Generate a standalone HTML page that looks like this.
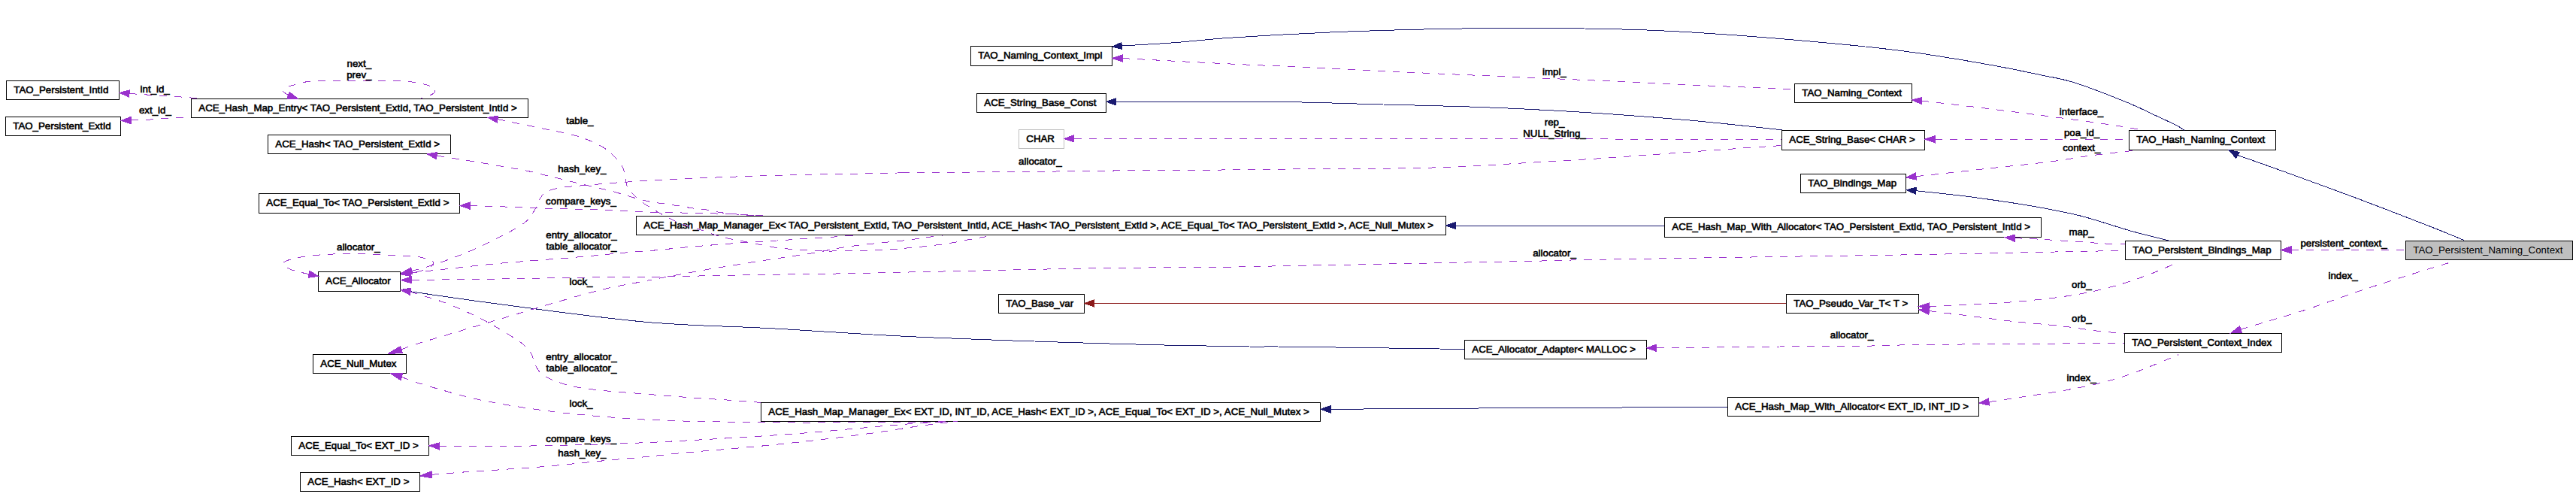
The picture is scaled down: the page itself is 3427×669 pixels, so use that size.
<!DOCTYPE html>
<html><head><meta charset="utf-8"><title>TAO_Persistent_Naming_Context collaboration graph</title>
<style>
html,body{margin:0;padding:0;background:#fff;}
body{width:3427px;height:669px;position:relative;overflow:hidden;font-family:"Liberation Sans",sans-serif;font-size:13.29px;color:#000;}
svg{position:absolute;left:0;top:0;}
.n{position:absolute;box-sizing:border-box;border:1px solid #000;background:#fff;text-align:left;padding-left:9.3px;white-space:nowrap;overflow:visible;-webkit-text-stroke:0.6px #000;}
.n.gray{border-color:#bfbfbf;}
.n.fill{background:#bfbfbf;-webkit-text-stroke:0;}
.n span{display:inline-block;}
.l{position:absolute;white-space:nowrap;text-align:center;-webkit-text-stroke:0.6px #000;transform:translate(-50%,-50%);line-height:14.7px;}
</style></head><body>
<div class="n" style="left:8px;top:107px;width:151px;height:26px;line-height:23px">TAO_Persistent_IntId</div>
<div class="n" style="left:7px;top:155px;width:154px;height:26px;line-height:23px">TAO_Persistent_ExtId</div>
<div class="n" style="left:254px;top:131px;width:449px;height:26px;line-height:23px">ACE_Hash_Map_Entry&lt; TAO_Persistent_ExtId, TAO_Persistent_IntId &gt;</div>
<div class="n" style="left:356px;top:179px;width:244px;height:26px;line-height:23px">ACE_Hash&lt; TAO_Persistent_ExtId &gt;</div>
<div class="n" style="left:344px;top:257px;width:268px;height:27px;line-height:24px">ACE_Equal_To&lt; TAO_Persistent_ExtId &gt;</div>
<div class="n" style="left:423px;top:361px;width:110px;height:27px;line-height:24px">ACE_Allocator</div>
<div class="n" style="left:416px;top:471px;width:125px;height:26px;line-height:23px">ACE_Null_Mutex</div>
<div class="n" style="left:387px;top:580px;width:184px;height:26px;line-height:23px">ACE_Equal_To&lt; EXT_ID &gt;</div>
<div class="n" style="left:399px;top:628px;width:160px;height:26px;line-height:23px">ACE_Hash&lt; EXT_ID &gt;</div>
<div class="n" style="left:1291px;top:61px;width:189px;height:27px;line-height:24px">TAO_Naming_Context_Impl</div>
<div class="n" style="left:1299px;top:124px;width:173px;height:26px;line-height:23px">ACE_String_Base_Const</div>
<div class="n gray" style="left:1355px;top:172px;width:61px;height:26px;line-height:23px">CHAR</div>
<div class="n" style="left:846px;top:287px;width:1078px;height:26px;line-height:23px">ACE_Hash_Map_Manager_Ex&lt; TAO_Persistent_ExtId, TAO_Persistent_IntId, ACE_Hash&lt; TAO_Persistent_ExtId &gt;, ACE_Equal_To&lt; TAO_Persistent_ExtId &gt;, ACE_Null_Mutex &gt;</div>
<div class="n" style="left:1328px;top:391px;width:115px;height:26px;line-height:23px">TAO_Base_var</div>
<div class="n" style="left:1012px;top:535px;width:745px;height:26px;line-height:23px;letter-spacing:0.035px">ACE_Hash_Map_Manager_Ex&lt; EXT_ID, INT_ID, ACE_Hash&lt; EXT_ID &gt;, ACE_Equal_To&lt; EXT_ID &gt;, ACE_Null_Mutex &gt;</div>
<div class="n" style="left:1948px;top:452px;width:243px;height:26px;line-height:23px">ACE_Allocator_Adapter&lt; MALLOC &gt;</div>
<div class="n" style="left:2298px;top:528px;width:335px;height:26px;line-height:23px">ACE_Hash_Map_With_Allocator&lt; EXT_ID, INT_ID &gt;</div>
<div class="n" style="left:2214px;top:289px;width:502px;height:27px;line-height:24px;letter-spacing:-0.020px">ACE_Hash_Map_With_Allocator&lt; TAO_Persistent_ExtId, TAO_Persistent_IntId &gt;</div>
<div class="n" style="left:2387px;top:111px;width:157px;height:26px;line-height:23px">TAO_Naming_Context</div>
<div class="n" style="left:2370px;top:173px;width:191px;height:27px;line-height:24px">ACE_String_Base&lt; CHAR &gt;</div>
<div class="n" style="left:2395px;top:231px;width:141px;height:26px;line-height:23px">TAO_Bindings_Map</div>
<div class="n" style="left:2832px;top:173px;width:196px;height:27px;line-height:24px">TAO_Hash_Naming_Context</div>
<div class="n" style="left:2827px;top:320px;width:208px;height:26px;line-height:23px">TAO_Persistent_Bindings_Map</div>
<div class="n fill" style="left:3200px;top:320px;width:223px;height:26px;line-height:23px">TAO_Persistent_Naming_Context</div>
<div class="n" style="left:2376px;top:391px;width:177px;height:26px;line-height:23px">TAO_Pseudo_Var_T&lt; T &gt;</div>
<div class="n" style="left:2826px;top:443px;width:210px;height:26px;line-height:23px">TAO_Persistent_Context_Index</div>
<svg width="3427" height="669" viewBox="0 0 3427 669" shape-rendering="crispEdges">
<path d="M1492.3,61.0 C1503.8,60.3 1536.8,58.6 1561.4,56.8 C1586.0,55.0 1604.6,52.3 1640.0,50.0 C1675.4,47.7 1729.1,44.7 1773.6,42.8 C1818.1,40.9 1868.0,39.6 1907.0,38.7 C1946.0,37.8 1974.0,37.5 2007.4,37.4 C2040.8,37.3 2074.2,37.5 2107.6,38.0 C2141.0,38.5 2174.4,39.2 2207.8,40.7 C2241.2,42.2 2274.6,44.4 2308.0,46.8 C2341.4,49.2 2376.0,52.1 2408.0,55.0 C2440.0,57.9 2473.5,61.0 2500.0,64.0 C2526.5,67.0 2541.9,69.0 2567.0,72.8 C2592.1,76.6 2625.4,82.2 2650.5,86.8 C2675.6,91.4 2698.9,96.3 2717.3,100.2 C2735.7,104.1 2742.3,104.3 2760.7,110.2 C2779.1,116.1 2809.7,128.1 2827.5,135.3 C2845.3,142.5 2856.2,148.3 2867.6,153.6 C2879.0,158.9 2889.6,163.7 2896.0,167.0 C2902.4,170.3 2904.3,172.3 2906.0,173.4" fill="none" stroke="#191970" stroke-width="1"/>
<polygon points="1480.0,62.0 1491.9,56.4 1492.7,65.6" fill="#191970" stroke="#191970" stroke-width="1"/>
<path d="M1484.6,135.3 C1518.8,135.3 1630.8,134.7 1690.0,135.3 C1749.2,135.9 1792.7,137.8 1840.0,139.0 C1887.3,140.2 1929.4,141.0 1974.0,142.7 C2018.6,144.4 2063.1,146.6 2107.6,149.4 C2152.1,152.2 2207.6,156.6 2241.0,159.4 C2274.4,162.2 2286.4,163.8 2308.0,166.0 C2329.6,168.2 2360.1,171.7 2370.5,172.8" fill="none" stroke="#191970" stroke-width="1"/>
<polygon points="1471.9,135.3 1484.6,130.7 1484.6,139.9" fill="#191970" stroke="#191970" stroke-width="1"/>
<path d="M2977.0,206.5 C2986.6,209.9 3008.3,217.3 3034.6,226.8 C3060.9,236.3 3101.4,251.0 3134.8,263.5 C3168.2,276.0 3211.1,292.6 3235.0,302.0 C3258.9,311.4 3271.2,316.8 3278.4,319.7" fill="none" stroke="#191970" stroke-width="1"/>
<polygon points="2965.0,199.4 2979.3,202.5 2974.7,210.5" fill="#191970" stroke="#191970" stroke-width="1"/>
<path d="M2549.0,253.7 C2556.5,254.5 2579.9,256.9 2594.0,258.5 C2608.1,260.1 2616.0,261.0 2633.8,263.5 C2651.6,266.0 2678.3,269.7 2700.6,273.6 C2722.9,277.5 2745.1,281.4 2767.4,287.0 C2789.7,292.6 2814.4,301.4 2834.2,307.0 C2854.0,312.6 2877.4,318.1 2886.0,320.3" fill="none" stroke="#191970" stroke-width="1"/>
<polygon points="2536.1,252.7 2549.4,249.1 2548.6,258.3" fill="#191970" stroke="#191970" stroke-width="1"/>
<path d="M1936.7,300.0 L2214.0,300.0" fill="none" stroke="#191970" stroke-width="1"/>
<polygon points="1923.6,300.0 1936.7,295.4 1936.7,304.6" fill="#191970" stroke="#191970" stroke-width="1"/>
<path d="M546.0,387.7 C566.3,390.6 615.7,398.2 668.0,405.0 C720.3,411.8 800.2,423.1 860.0,428.4 C919.8,433.7 971.3,433.7 1027.0,436.8 C1082.7,439.9 1138.3,444.0 1194.0,446.8 C1249.7,449.6 1305.3,451.6 1361.0,453.5 C1416.7,455.4 1477.9,457.2 1528.0,458.5 C1578.1,459.8 1632.9,460.6 1661.6,461.0 C1690.3,461.4 1671.3,460.7 1700.0,461.0 C1728.7,461.3 1792.2,462.2 1833.6,462.8 C1875.0,463.4 1929.1,464.2 1948.2,464.5" fill="none" stroke="#191970" stroke-width="1"/>
<polygon points="533.0,385.6 546.7,383.2 545.3,392.2" fill="#191970" stroke="#191970" stroke-width="1"/>
<path d="M1770.0,544.3 C1802.8,544.1 1879.0,543.5 1967.0,543.0 C2055.0,542.5 2242.8,541.6 2298.0,541.3" fill="none" stroke="#191970" stroke-width="1"/>
<polygon points="1756.8,544.3 1770.0,539.7 1770.0,548.9" fill="#191970" stroke="#191970" stroke-width="1"/>
<path d="M1455.5,403.4 L2376.0,403.4" fill="none" stroke="#8b1a1a" stroke-width="1"/>
<polygon points="1442.8,403.4 1455.5,398.8 1455.5,408.0" fill="#8b1a1a" stroke="#8b1a1a" stroke-width="1"/>
<path d="M172.0,124.5 C176.7,124.8 190.8,125.7 200.0,126.3 C209.2,126.9 218.0,127.4 227.0,128.0 C236.0,128.6 246.5,129.5 254.0,130.0 C261.5,130.5 269.0,130.8 272.0,131.0" fill="none" stroke="#9a32cd" stroke-width="1" stroke-dasharray="10,10"/>
<polygon points="159.0,123.5 172.4,119.9 171.6,129.1" fill="#9a32cd" stroke="#9a32cd" stroke-width="1"/>
<path d="M174.3,160.0 C178.6,159.8 191.2,159.5 200.0,159.0 C208.8,158.5 217.9,157.5 227.0,157.0 C236.1,156.5 249.9,156.3 254.5,156.2" fill="none" stroke="#9a32cd" stroke-width="1" stroke-dasharray="10,10"/>
<polygon points="161.0,160.5 174.1,155.4 174.5,164.6" fill="#9a32cd" stroke="#9a32cd" stroke-width="1"/>
<path d="M383.6,126.7 C382.8,126.2 379.9,124.5 378.6,123.4 C377.3,122.3 375.2,121.4 376.0,120.0 C376.8,118.6 379.6,116.5 383.6,115.0 C387.7,113.5 394.7,112.1 400.3,110.9 C405.9,109.7 403.1,108.4 417.0,107.8 C430.9,107.2 464.3,107.5 483.8,107.5 C503.3,107.5 521.4,107.2 533.9,107.8 C546.4,108.4 552.0,109.6 559.0,110.9 C566.0,112.2 572.3,114.4 575.6,115.9 C578.9,117.4 579.0,118.5 579.0,120.0 C579.0,121.5 578.7,123.2 575.6,125.0 C572.5,126.8 563.1,129.9 560.6,130.9" fill="none" stroke="#9a32cd" stroke-width="1" stroke-dasharray="10,10"/>
<polygon points="396.1,131.2 382.0,131.0 385.2,122.4" fill="#9a32cd" stroke="#9a32cd" stroke-width="1"/>
<path d="M662.0,158.6 C664.5,159.1 667.2,159.7 677.0,161.7 C686.8,163.7 705.5,167.5 720.5,170.7 C735.5,173.9 754.2,177.1 767.0,180.8 C779.8,184.5 789.2,188.8 797.0,192.8 C804.8,196.8 809.0,200.5 814.0,205.0 C819.0,209.5 824.0,215.2 827.0,220.0 C830.0,224.8 830.8,229.1 832.0,233.6 C833.2,238.1 832.5,243.1 834.0,247.0 C835.5,250.9 837.7,253.4 841.0,257.0 C844.3,260.6 849.2,264.9 854.0,268.6 C858.8,272.3 864.3,275.6 870.0,279.0 C875.7,282.4 881.8,285.8 888.0,289.0 C894.2,292.2 900.0,295.3 907.0,298.0 C914.0,300.7 922.8,302.7 930.0,305.0 C937.2,307.3 943.7,310.0 950.0,312.0 C956.3,314.0 960.2,315.2 968.0,317.0 C975.8,318.8 988.0,320.8 997.0,322.5 C1006.0,324.2 1014.5,326.2 1022.0,327.5 C1029.5,328.8 1032.3,329.6 1042.0,330.5 C1051.7,331.4 1070.3,332.4 1080.0,333.0 C1089.7,333.6 1089.7,333.9 1100.0,334.0 C1110.3,334.1 1128.3,333.8 1142.0,333.5 C1155.7,333.2 1169.5,332.8 1182.0,332.0 C1194.5,331.2 1204.5,330.2 1217.0,329.0 C1229.5,327.8 1243.9,326.4 1257.0,324.5 C1270.1,322.6 1284.7,319.4 1295.5,317.5 C1306.3,315.6 1317.6,313.8 1322.0,313.0" fill="none" stroke="#9a32cd" stroke-width="1" stroke-dasharray="10,10"/>
<polygon points="649.0,156.4 662.8,154.1 661.2,163.1" fill="#9a32cd" stroke="#9a32cd" stroke-width="1"/>
<path d="M581.0,207.0 C584.2,207.5 590.2,208.4 600.0,210.0 C609.8,211.6 626.7,214.2 640.0,216.5 C653.3,218.8 670.3,221.8 680.0,223.5 C689.7,225.2 685.7,223.8 698.0,226.5 C710.3,229.2 738.4,236.2 754.0,240.0 C769.6,243.8 781.9,246.7 791.7,249.0 C801.5,251.3 806.6,252.3 813.0,254.0 C819.4,255.7 824.3,257.3 830.0,259.0 C835.7,260.7 841.4,262.5 847.0,264.0 C852.6,265.5 857.4,266.8 863.5,268.0 C869.6,269.2 876.8,270.0 883.5,271.0 C890.2,272.0 897.1,273.0 903.5,274.0 C909.9,275.0 915.9,276.2 922.0,277.0 C928.1,277.8 933.9,278.1 940.0,279.0 C946.1,279.9 951.9,281.6 958.6,282.6 C965.3,283.6 972.4,284.3 980.0,285.0 C987.6,285.7 1000.0,286.7 1004.0,287.0" fill="none" stroke="#9a32cd" stroke-width="1" stroke-dasharray="10,10"/>
<polygon points="568.0,205.0 581.7,202.5 580.3,211.5" fill="#9a32cd" stroke="#9a32cd" stroke-width="1"/>
<path d="M625.0,273.6 C629.8,273.7 644.8,274.0 654.0,274.3 C663.2,274.6 669.0,274.9 680.0,275.3 C691.0,275.8 703.3,276.5 720.0,277.0 C736.7,277.5 765.8,278.2 780.0,278.5 C794.2,278.8 797.2,278.7 805.0,279.0 C812.8,279.3 820.0,280.0 827.0,280.4 C834.0,280.8 837.0,281.0 847.0,281.4 C857.0,281.8 873.7,282.3 887.0,282.6 C900.3,282.9 914.2,283.1 927.0,283.4 C939.8,283.7 953.9,284.0 963.6,284.3 C973.3,284.6 975.6,284.9 985.0,285.4 C994.4,285.9 1014.2,287.0 1020.0,287.3" fill="none" stroke="#9a32cd" stroke-width="1" stroke-dasharray="10,10"/>
<polygon points="612.0,273.6 625.0,269.0 625.0,278.2" fill="#9a32cd" stroke="#9a32cd" stroke-width="1"/>
<path d="M546.5,363.0 C550.1,362.6 558.9,361.5 568.0,360.5 C577.1,359.5 584.3,358.8 601.0,357.0 C617.7,355.2 640.2,352.5 668.0,350.0 C695.8,347.5 739.9,344.4 768.0,342.0 C796.1,339.6 821.5,336.9 836.8,335.6 C852.1,334.3 847.2,335.1 860.0,334.0 C872.8,332.9 893.5,330.6 913.5,328.8 C933.5,327.0 960.0,324.9 980.0,323.4 C1000.0,321.9 1018.6,321.0 1033.7,320.0 C1048.8,319.0 1057.7,318.4 1070.5,317.6 C1083.3,316.8 1098.6,315.9 1110.5,315.0 C1122.4,314.1 1136.8,312.9 1142.0,312.5" fill="none" stroke="#9a32cd" stroke-width="1" stroke-dasharray="10,10"/>
<polygon points="533.4,364.8 545.9,358.4 547.1,367.6" fill="#9a32cd" stroke="#9a32cd" stroke-width="1"/>
<path d="M534.0,465.0 C536.8,463.9 539.8,462.2 551.0,458.6 C562.2,455.0 581.5,449.4 601.0,443.5 C620.5,437.6 645.7,430.2 668.0,423.5 C690.3,416.8 712.7,409.9 735.0,403.5 C757.3,397.1 780.8,390.0 801.6,385.0 C822.4,380.0 849.1,375.7 860.0,373.5 C870.9,371.3 853.7,374.5 867.0,372.0 C880.3,369.5 922.0,361.8 940.0,358.6 C958.0,355.4 965.8,354.6 975.3,353.0 C984.8,351.4 986.4,351.0 997.0,349.3 C1007.6,347.6 1024.9,345.1 1038.8,343.0 C1052.7,340.9 1066.6,339.1 1080.5,336.8 C1094.4,334.5 1108.1,331.2 1122.0,329.0 C1135.9,326.8 1149.3,325.5 1164.0,323.8 C1178.7,322.1 1199.0,320.3 1210.0,319.0 C1221.0,317.7 1222.7,317.0 1230.0,316.0 C1237.3,315.0 1250.0,313.5 1254.0,313.0" fill="none" stroke="#9a32cd" stroke-width="1" stroke-dasharray="10,10"/>
<polygon points="516.0,470.6 532.6,460.6 535.4,469.4" fill="#9a32cd" stroke="#9a32cd" stroke-width="1"/>
<path d="M411.0,364.8 C408.9,364.3 402.4,362.8 398.4,361.7 C394.3,360.6 390.0,359.8 386.7,358.4 C383.4,357.0 379.9,354.9 378.4,353.4 C376.9,351.9 376.4,350.5 377.5,349.2 C378.6,347.9 381.0,346.8 385.0,345.5 C389.0,344.2 394.7,342.8 401.7,341.7 C408.7,340.6 417.1,339.6 426.8,338.9 C436.5,338.2 448.9,337.6 460.0,337.5 C471.1,337.4 482.4,337.6 493.6,338.0 C504.8,338.4 516.4,339.1 527.0,339.7 C537.6,340.3 548.9,340.4 557.0,341.7 C565.1,343.0 572.6,345.5 575.4,347.6 C578.2,349.7 575.8,352.3 573.8,354.2 C571.8,356.1 567.7,357.8 563.7,359.2 C559.7,360.6 555.0,361.5 550.0,362.5 C545.0,363.5 536.2,364.8 533.4,365.3" fill="none" stroke="#9a32cd" stroke-width="1" stroke-dasharray="10,10"/>
<polygon points="423.5,367.3 410.1,369.3 411.9,360.3" fill="#9a32cd" stroke="#9a32cd" stroke-width="1"/>
<path d="M547.8,360.3 C551.1,359.4 558.9,357.8 567.8,355.0 C576.7,352.2 589.9,347.8 601.0,343.6 C612.1,339.4 623.4,335.0 634.6,330.0 C645.8,325.0 659.8,317.7 668.0,313.5 C676.2,309.3 678.6,308.2 684.0,305.0 C689.4,301.8 695.9,298.2 700.4,294.0 C704.9,289.8 708.1,284.8 711.0,280.0 C713.9,275.2 715.8,268.8 718.0,265.0 C720.2,261.2 721.2,259.2 724.0,257.0 C726.8,254.8 730.0,253.4 735.0,252.0 C740.0,250.6 746.5,249.5 754.0,248.6 C761.5,247.7 766.5,247.5 780.0,246.4 C793.5,245.3 810.0,243.6 835.0,242.0 C860.0,240.4 897.4,238.4 930.0,237.0 C962.6,235.6 986.4,234.6 1030.4,233.4 C1074.4,232.2 1164.1,230.6 1194.0,230.0 C1223.9,229.4 1182.2,229.9 1210.0,229.7 C1237.8,229.4 1308.0,229.0 1361.0,228.5 C1414.0,228.0 1481.5,226.9 1528.0,226.5 C1574.5,226.1 1608.0,226.2 1640.0,225.9 C1672.0,225.7 1686.6,225.3 1720.0,225.0 C1753.4,224.7 1803.6,224.7 1840.4,224.2 C1877.2,223.7 1907.2,223.2 1940.6,221.8 C1974.0,220.4 2010.2,217.8 2040.8,216.0 C2071.4,214.2 2096.5,212.8 2124.3,211.0 C2152.1,209.2 2177.2,207.2 2207.8,205.0 C2238.4,202.8 2280.9,199.7 2308.0,197.8 C2335.1,195.9 2360.1,194.2 2370.5,193.5" fill="none" stroke="#9a32cd" stroke-width="1" stroke-dasharray="10,10"/>
<polygon points="533.4,363.6 546.8,355.8 548.8,364.8" fill="#9a32cd" stroke="#9a32cd" stroke-width="1"/>
<path d="M547.8,372.4 C567.8,372.2 626.0,371.6 668.0,371.0 C710.0,370.4 768.0,369.2 800.0,368.8 C832.0,368.4 826.7,368.9 860.0,368.4 C893.3,367.9 954.3,366.4 1000.0,365.6 C1045.7,364.8 1062.3,365.0 1134.0,363.6 C1205.7,362.2 1352.3,358.7 1430.0,357.3 C1507.7,355.9 1561.7,355.6 1600.0,355.2 C1638.3,354.8 1588.8,355.9 1660.0,354.6 C1731.2,353.3 1947.5,349.1 2027.5,347.5 C2107.5,345.9 2067.9,346.2 2140.0,345.0 C2212.1,343.8 2388.8,341.1 2460.0,340.0 C2531.2,338.9 2521.3,339.2 2567.0,338.4 C2612.7,337.6 2690.7,335.8 2734.0,335.0 C2777.3,334.2 2811.5,333.7 2827.0,333.4" fill="none" stroke="#9a32cd" stroke-width="1" stroke-dasharray="10,10"/>
<polygon points="533.4,372.4 547.8,367.8 547.8,377.0" fill="#9a32cd" stroke="#9a32cd" stroke-width="1"/>
<path d="M546.0,387.9 C548.5,388.8 554.6,391.0 561.0,393.0 C567.4,395.0 575.0,396.6 584.5,400.0 C594.0,403.4 606.9,408.5 618.0,413.5 C629.1,418.5 640.2,423.9 651.3,430.0 C662.4,436.1 677.2,445.3 684.7,450.0 C692.2,454.7 692.7,455.2 696.0,458.0 C699.3,460.8 702.4,463.7 704.7,467.0 C707.0,470.3 708.7,474.8 710.0,478.0 C711.3,481.2 711.0,483.0 712.5,486.0 C714.0,489.0 716.1,493.2 719.0,496.0 C721.9,498.8 725.7,500.8 730.0,503.0 C734.3,505.2 739.2,507.1 745.0,509.0 C750.8,510.9 755.6,512.8 765.0,514.5 C774.4,516.2 785.8,517.8 801.6,519.4 C817.4,521.0 839.1,522.5 860.0,524.2 C880.9,525.9 907.3,528.0 926.8,529.4 C946.3,530.8 962.8,531.7 977.0,532.7 C991.2,533.7 1006.4,535.0 1012.3,535.4" fill="none" stroke="#9a32cd" stroke-width="1" stroke-dasharray="10,10"/>
<polygon points="533.0,385.6 546.8,383.4 545.2,392.4" fill="#9a32cd" stroke="#9a32cd" stroke-width="1"/>
<path d="M534.4,501.3 C537.2,502.4 542.6,505.0 551.0,507.7 C559.4,510.4 570.6,513.8 584.5,517.7 C598.4,521.6 615.1,526.8 634.6,531.0 C654.1,535.2 679.2,539.5 701.4,542.8 C723.6,546.1 741.6,548.4 768.0,551.0 C794.4,553.6 828.0,556.5 860.0,558.2 C892.0,559.9 926.7,560.4 960.0,561.0 C993.3,561.6 1030.5,561.9 1060.0,562.0 C1089.5,562.1 1113.7,561.7 1137.0,561.6 C1160.3,561.5 1177.2,561.7 1200.0,561.5 C1222.8,561.3 1261.7,560.7 1274.0,560.5" fill="none" stroke="#9a32cd" stroke-width="1" stroke-dasharray="10,10"/>
<polygon points="519.4,496.5 535.8,496.9 533.0,505.7" fill="#9a32cd" stroke="#9a32cd" stroke-width="1"/>
<path d="M584.5,593.3 C598.4,593.3 637.4,593.8 668.0,593.5 C698.6,593.2 736.0,592.6 768.0,591.8 C800.0,591.0 833.5,589.7 860.0,588.6 C886.5,587.5 904.5,586.4 926.8,585.2 C949.1,584.0 971.3,582.6 993.6,581.2 C1015.9,579.8 1038.2,578.5 1060.4,576.8 C1082.6,575.1 1104.7,573.0 1127.0,571.0 C1149.3,569.0 1175.6,566.5 1194.0,565.0 C1212.4,563.5 1226.3,562.7 1237.4,562.0 C1248.5,561.3 1256.9,561.2 1260.8,561.0" fill="none" stroke="#9a32cd" stroke-width="1" stroke-dasharray="10,10"/>
<polygon points="570.8,592.8 584.7,588.7 584.3,597.9" fill="#9a32cd" stroke="#9a32cd" stroke-width="1"/>
<path d="M574.5,631.3 C581.8,630.7 602.4,629.0 618.0,627.9 C633.6,626.8 648.5,626.0 668.0,624.6 C687.5,623.2 712.5,621.6 734.8,619.6 C757.1,617.6 780.7,614.9 801.6,612.9 C822.5,610.9 841.9,609.3 860.0,607.5 C878.1,605.7 893.3,603.8 910.0,602.2 C926.7,600.6 940.5,599.6 960.0,597.9 C979.5,596.2 1004.7,594.0 1027.0,591.8 C1049.3,589.6 1071.5,587.1 1093.8,584.5 C1116.1,581.9 1138.3,579.1 1160.6,576.0 C1182.9,572.9 1208.5,568.6 1227.4,566.0 C1246.3,563.4 1266.2,561.4 1274.0,560.5" fill="none" stroke="#9a32cd" stroke-width="1" stroke-dasharray="10,10"/>
<polygon points="558.8,633.0 574.0,626.7 575.0,635.9" fill="#9a32cd" stroke="#9a32cd" stroke-width="1"/>
<path d="M1493.0,77.5 C1504.4,78.1 1533.3,79.8 1561.4,81.2 C1589.5,82.7 1631.8,84.8 1661.6,86.2 C1691.4,87.6 1710.3,88.1 1740.0,89.5 C1769.7,90.9 1806.6,92.9 1840.0,94.5 C1873.4,96.1 1907.1,97.7 1940.6,99.2 C1974.1,100.7 2007.4,102.0 2040.8,103.5 C2074.2,105.0 2107.6,106.4 2141.0,107.9 C2174.4,109.4 2207.6,111.1 2241.0,112.6 C2274.4,114.1 2317.0,115.8 2341.4,116.9 C2365.8,118.0 2379.6,118.8 2387.2,119.2" fill="none" stroke="#9a32cd" stroke-width="1" stroke-dasharray="10,10"/>
<polygon points="1480.0,77.5 1493.0,72.9 1493.0,82.1" fill="#9a32cd" stroke="#9a32cd" stroke-width="1"/>
<path d="M1428.8,184.4 C1477.3,184.4 1601.5,184.3 1720.0,184.4 C1838.5,184.5 2031.7,184.8 2140.0,185.0 C2248.3,185.2 2331.7,185.4 2370.0,185.5" fill="none" stroke="#9a32cd" stroke-width="1" stroke-dasharray="10,10"/>
<polygon points="1415.8,184.4 1428.8,179.8 1428.8,189.0" fill="#9a32cd" stroke="#9a32cd" stroke-width="1"/>
<path d="M2556.5,134.0 C2570.6,135.7 2610.2,140.2 2641.0,144.0 C2671.8,147.8 2713.4,153.1 2741.2,156.8 C2769.0,160.5 2790.2,163.4 2808.0,166.0 C2825.8,168.6 2841.3,171.4 2848.0,172.5" fill="none" stroke="#9a32cd" stroke-width="1" stroke-dasharray="10,10"/>
<polygon points="2543.8,132.8 2556.9,129.4 2556.1,138.6" fill="#9a32cd" stroke="#9a32cd" stroke-width="1"/>
<path d="M2574.0,185.2 L2832.4,185.2" fill="none" stroke="#9a32cd" stroke-width="1" stroke-dasharray="10,10"/>
<polygon points="2560.8,185.2 2574.0,180.6 2574.0,189.8" fill="#9a32cd" stroke="#9a32cd" stroke-width="1"/>
<path d="M2549.0,234.6 C2552.2,234.3 2552.7,234.3 2568.4,232.6 C2584.2,230.9 2617.1,227.2 2643.5,224.3 C2669.9,221.4 2704.7,217.9 2727.0,215.1 C2749.3,212.3 2763.2,209.5 2777.1,207.6 C2791.0,205.7 2800.1,204.6 2810.5,203.4 C2820.9,202.2 2834.8,200.7 2839.7,200.2" fill="none" stroke="#9a32cd" stroke-width="1" stroke-dasharray="10,10"/>
<polygon points="2536.1,236.0 2548.5,230.0 2549.5,239.2" fill="#9a32cd" stroke="#9a32cd" stroke-width="1"/>
<path d="M2680.6,316.7 C2686.7,317.0 2702.8,317.6 2717.3,318.4 C2731.8,319.2 2753.5,320.8 2767.4,321.7 C2781.3,322.6 2790.8,323.4 2800.8,324.0 C2810.8,324.6 2822.8,324.8 2827.2,325.0" fill="none" stroke="#9a32cd" stroke-width="1" stroke-dasharray="10,10"/>
<polygon points="2667.2,315.7 2680.9,312.1 2680.3,321.3" fill="#9a32cd" stroke="#9a32cd" stroke-width="1"/>
<path d="M2566.5,407.5 C2570.4,407.4 2573.6,407.5 2590.0,406.7 C2606.4,405.9 2640.0,404.6 2665.0,402.7 C2690.0,400.8 2719.3,397.9 2740.2,395.2 C2761.1,392.4 2775.3,389.5 2790.3,386.2 C2805.3,382.9 2817.9,379.1 2830.4,375.2 C2842.9,371.3 2854.2,367.0 2865.5,362.6 C2876.8,358.2 2892.6,350.9 2898.0,348.6" fill="none" stroke="#9a32cd" stroke-width="1" stroke-dasharray="10,10"/>
<polygon points="2552.8,407.5 2566.5,402.9 2566.5,412.1" fill="#9a32cd" stroke="#9a32cd" stroke-width="1"/>
<path d="M2566.5,413.6 C2573.3,414.4 2589.6,416.4 2607.6,418.6 C2625.6,420.8 2652.1,424.5 2674.4,427.0 C2696.7,429.5 2721.7,431.4 2741.2,433.6 C2760.7,435.8 2777.1,438.6 2791.3,440.3 C2805.5,442.0 2820.6,443.1 2826.4,443.6" fill="none" stroke="#9a32cd" stroke-width="1" stroke-dasharray="10,10"/>
<polygon points="2552.8,411.9 2567.1,409.0 2565.9,418.2" fill="#9a32cd" stroke="#9a32cd" stroke-width="1"/>
<path d="M2203.7,462.8 C2231.1,462.5 2322.9,461.4 2368.0,461.0 C2413.1,460.6 2442.0,460.7 2474.0,460.3 C2506.0,459.9 2501.3,459.2 2560.0,458.5 C2618.7,457.8 2782.0,456.7 2826.4,456.3" fill="none" stroke="#9a32cd" stroke-width="1" stroke-dasharray="10,10"/>
<polygon points="2190.6,462.8 2203.7,458.2 2203.7,467.4" fill="#9a32cd" stroke="#9a32cd" stroke-width="1"/>
<path d="M2646.0,534.6 C2653.3,533.5 2674.3,530.4 2690.0,528.0 C2705.7,525.6 2723.5,523.3 2740.2,520.4 C2756.9,517.5 2775.3,514.0 2790.3,510.4 C2805.3,506.8 2817.9,503.1 2830.4,498.9 C2842.9,494.7 2854.2,489.9 2865.5,485.4 C2876.8,480.9 2892.6,474.1 2898.0,471.8" fill="none" stroke="#9a32cd" stroke-width="1" stroke-dasharray="10,10"/>
<polygon points="2632.8,536.0 2645.5,530.0 2646.5,539.2" fill="#9a32cd" stroke="#9a32cd" stroke-width="1"/>
<path d="M3048.0,332.4 L3200.6,332.4" fill="none" stroke="#9a32cd" stroke-width="1" stroke-dasharray="10,10"/>
<polygon points="3034.6,332.4 3048.0,327.8 3048.0,337.0" fill="#9a32cd" stroke="#9a32cd" stroke-width="1"/>
<path d="M2981.0,438.0 C2987.2,436.2 3003.5,431.4 3018.0,427.0 C3032.5,422.6 3048.5,418.3 3068.0,411.9 C3087.5,405.5 3112.5,396.0 3134.8,388.5 C3157.1,381.0 3180.4,373.5 3201.6,366.8 C3222.8,360.1 3251.7,351.5 3261.7,348.4" fill="none" stroke="#9a32cd" stroke-width="1" stroke-dasharray="10,10"/>
<polygon points="2967.8,443.0 2979.4,433.7 2982.6,442.3" fill="#9a32cd" stroke="#9a32cd" stroke-width="1"/>
</svg>
<div class="l" style="left:477.8px;top:93.0px">next_<br>prev_</div>
<div class="l" style="left:206.2px;top:118.5px">int_id_</div>
<div class="l" style="left:206.4px;top:147.3px">ext_id_</div>
<div class="l" style="left:771.4px;top:161.4px">table_</div>
<div class="l" style="left:774.3px;top:225.2px">hash_key_</div>
<div class="l" style="left:773.0px;top:267.7px">compare_keys_</div>
<div class="l" style="left:773.5px;top:320.9px">entry_allocator_<br>table_allocator_</div>
<div class="l" style="left:476.8px;top:329.2px">allocator_</div>
<div class="l" style="left:773.0px;top:375.1px">lock_</div>
<div class="l" style="left:773.5px;top:483.4px">entry_allocator_<br>table_allocator_</div>
<div class="l" style="left:773.0px;top:536.7px">lock_</div>
<div class="l" style="left:773.2px;top:583.5px">compare_keys_</div>
<div class="l" style="left:774.4px;top:602.9px">hash_key_</div>
<div class="l" style="left:1383.9px;top:215.1px">allocator_</div>
<div class="l" style="left:2067.9px;top:95.9px">impl_</div>
<div class="l" style="left:2068.0px;top:171.4px">rep_<br>NULL_String_</div>
<div class="l" style="left:2068.0px;top:336.6px">allocator_</div>
<div class="l" style="left:2463.6px;top:446.3px">allocator_</div>
<div class="l" style="left:2769.0px;top:148.9px">interface_</div>
<div class="l" style="left:2769.6px;top:176.8px">poa_id_</div>
<div class="l" style="left:2769.3px;top:196.9px">context_</div>
<div class="l" style="left:2769.0px;top:308.7px">map_</div>
<div class="l" style="left:2769.3px;top:378.5px">orb_</div>
<div class="l" style="left:2769.3px;top:423.7px">orb_</div>
<div class="l" style="left:2769.0px;top:503.2px">index_</div>
<div class="l" style="left:3118.0px;top:323.5px">persistent_context_</div>
<div class="l" style="left:3117.0px;top:366.9px">index_</div>
</body></html>
